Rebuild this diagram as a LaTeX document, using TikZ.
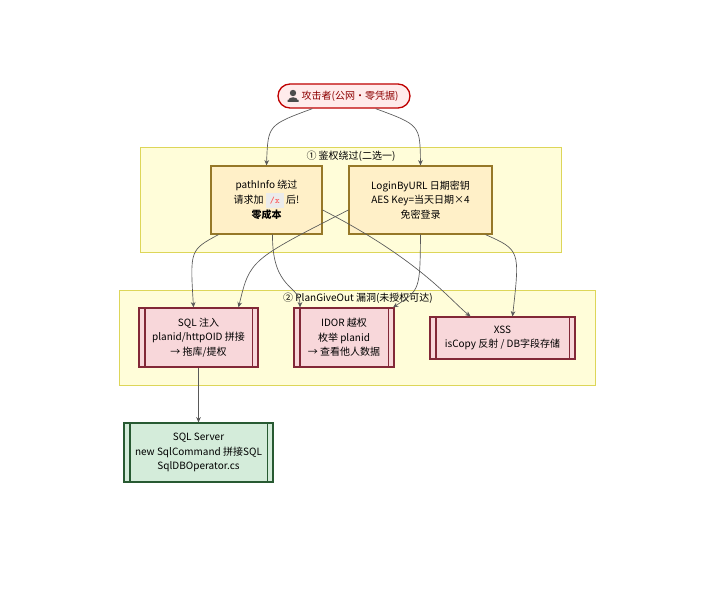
\documentclass[tikz,border=0pt]{standalone}
\usepackage{fontspec}
\setmainfont{Noto Sans CJK SC}
\usetikzlibrary{arrows.meta}
\definecolor{ybd}{RGB}{150,120,40}
\definecolor{yfl}{RGB}{255,240,200}
\definecolor{rbd}{RGB}{130,40,55}
\definecolor{rfl}{RGB}{248,215,218}
\definecolor{gbd}{RGB}{40,90,50}
\definecolor{gfl}{RGB}{212,236,218}
\begin{document}
\begin{tikzpicture}[x=0.75pt,y=-0.75pt,font=\fontsize{7.5}{11}\selectfont,
 cl/.style={draw=yellow!50!olive!60,fill=yellow!15,line width=0.6pt},
 ybox/.style={draw=ybd,fill=yfl,line width=0.9pt,align=center,inner sep=0pt},
 rbox/.style={draw=rbd,fill=rfl,line width=0.9pt,align=center,inner sep=0pt},
 gbox/.style={draw=gbd,fill=gfl,line width=0.9pt,align=center,inner sep=0pt},
 ar/.style={draw=gray!70!black,line width=0.5pt,-{Stealth[length=4pt,width=3.5pt]}}]
\useasboundingbox (0,0) rectangle (721,592);
\newcommand{\sub}[2]{\draw[#2,line width=0.9pt] ([xshift=6.5*0.75pt]#1.north west)--([xshift=6.5*0.75pt]#1.south west) ([xshift=-6.5*0.75pt]#1.north east)--([xshift=-6.5*0.75pt]#1.south east);}
\node[cl,minimum width=421*0.75pt,minimum height=105*0.75pt] (c1) at (350.5,199.5) {};
\node (c1t) at (351,156) {① 鉴权绕过(二选一)};
\node[cl,minimum width=476*0.75pt,minimum height=95*0.75pt] (c2) at (357,337.5) {};
\node (c2t) at (358,298) {② PlanGiveOut 漏洞(未授权可达)};
\node[draw=red!75!black,fill=red!8,line width=1pt,rounded corners=12*0.75pt,minimum width=132*0.75pt,minimum height=24*0.75pt,text=red!55!black] (att) at (344,96) {\hspace{9pt}攻击者(公网·零凭据)};
\fill[black!70] (293,93) circle (3.2) (287.5,102) rectangle (298.5,100) (288,101) .. controls (288,96) and (298,96) .. (298,101) -- cycle;
\node[ybox,minimum width=111*0.75pt,minimum height=68*0.75pt] (pi) at (266.5,200) {pathInfo 绕过\\请求加 \colorbox{black!8}{\color{red!70}\ttfamily\scriptsize /x} 后!\\\textbf{零成本}};
\node[ybox,minimum width=143*0.75pt,minimum height=68*0.75pt] (lg) at (420.5,200) {LoginByURL 日期密钥\\AES Key=当天日期×4\\免密登录};
\node[rbox,minimum width=119*0.75pt,minimum height=59*0.75pt] (sq) at (198.5,337.5) {SQL 注入\\planid/httpOID 拼接\\→ 拖库/提权};
\sub{sq}{rbd}
\node[rbox,minimum width=100*0.75pt,minimum height=59*0.75pt] (id) at (344,337.5) {IDOR 越权\\枚举 planid\\→ 查看他人数据};
\sub{id}{rbd}
\node[rbox,minimum width=145*0.75pt,minimum height=42*0.75pt] (xs) at (502.5,338) {XSS\\isCopy 反射 / DB字段存储};
\sub{xs}{rbd}
\node[gbox,minimum width=149*0.75pt,minimum height=59*0.75pt] (db) at (198.5,452.5) {SQL Server\\new SqlCommand 拼接SQL\\SqlDBOperator.cs};
\sub{db}{gbd}
\draw[ar] (att.south west)++(35*0.75pt,0) .. controls (268,125) .. (pi.north);
\draw[ar] (att.south east)++(-35*0.75pt,0) .. controls (420,125) .. (lg.north);
\draw[ar] ([xshift=-48*0.75pt]pi.south) .. controls (190,250) .. ([xshift=-5*0.75pt]sq.north);
\draw[ar] ([xshift=6*0.75pt]pi.south) .. controls (272,290) and (300,285) .. ([xshift=-44*0.75pt]id.north);
\draw[ar] ([yshift=-10*0.75pt]pi.east) .. controls (420,260) and (450,300) .. ([xshift=-32*0.75pt]xs.north);
\draw[ar] ([yshift=-10*0.75pt]lg.west) .. controls (250,260) .. ([xshift=40*0.75pt]sq.north);
\draw[ar] (lg.south) .. controls (420,290) .. ([xshift=49*0.75pt]id.north);
\draw[ar] ([xshift=65*0.75pt]lg.south) .. controls (520,250) .. ([xshift=10*0.75pt]xs.north);
\draw[ar] (sq) -- (db);
\end{tikzpicture}
\end{document}
